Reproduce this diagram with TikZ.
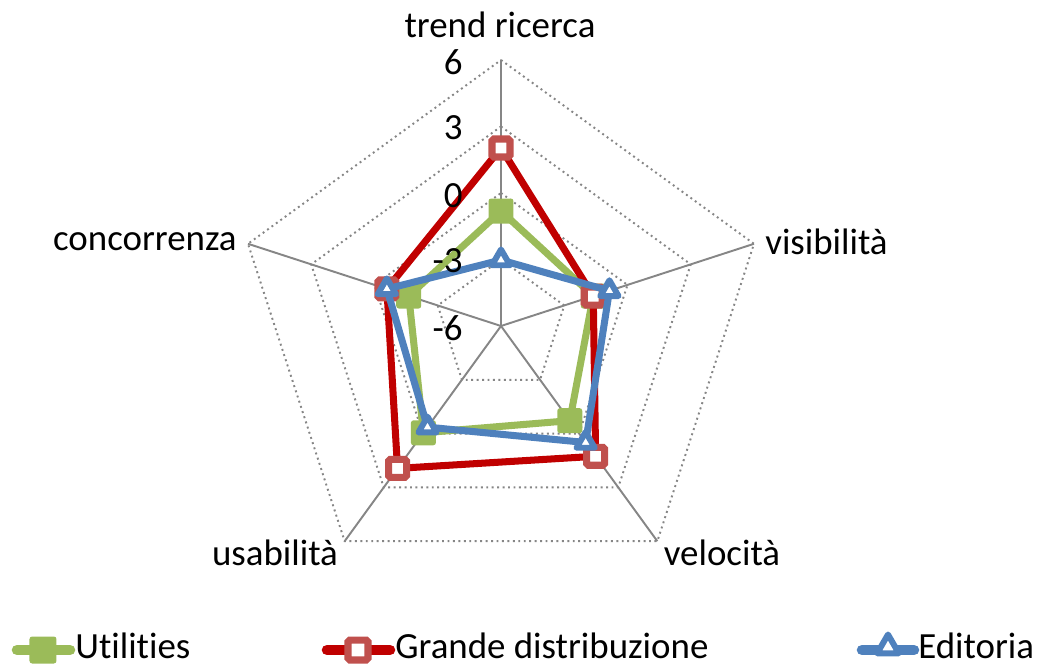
\documentclass[tikz,border=0pt]{standalone}
\usepackage{fontspec}
\setmainfont{Carlito}[Ligatures={CommonOff,RareOff}]
\usepackage{tikz}
\usetikzlibrary{shapes.geometric}

\definecolor{gridgray}{HTML}{868686}
\definecolor{utilgreen}{HTML}{9BBB59}
\definecolor{gdoline}{HTML}{C00000}
\definecolor{gdomark}{HTML}{C0504D}
\definecolor{edblue}{HTML}{4F81BD}

\begin{document}
\begin{tikzpicture}[x=0.02cm, y=0.02cm,
    every node/.style={font=\fontsize{21}{25}\selectfont, inner sep=0pt},
    spoke/.style={draw=gridgray, line width=1.1pt},
    ring/.style={draw=gridgray, line width=1.1pt, dotted},
    utilline/.style={draw=utilgreen, line width=4pt, line join=round},
    gdoline/.style={draw=gdoline, line width=4pt, line join=round},
    edline/.style={draw=edblue, line width=4pt, line join=round},
    keyline/.style={line width=6pt, line cap=round},
    utilmark/.style={rectangle, fill=utilgreen, minimum size=0.5cm, rounded corners=1.5pt},
    gdomark/.style={rectangle, draw=gdomark, fill=white, line width=4pt, minimum size=0.36cm, rounded corners=1pt},
    edmark/.style={regular polygon, regular polygon sides=3, draw=edblue, fill=white, line width=3.4pt, line join=round, minimum size=0.42cm}]

    % Fix the size of the page
    \useasboundingbox (-501,-338) rectangle (536,326);

    % Centre and ends of the five axes
    \coordinate (o) at (0,0);
    \coordinate (ot) at (90:266);
    \coordinate (ov) at (18:266);
    \coordinate (ovel) at (-54:266);
    \coordinate (ous) at (-126:266);
    \coordinate (oc) at (162:266);

    % Dotted rings at -3, 0, 3 and 6
    \foreach \r in {66.5,133,199.5,266}
        \draw[ring] (90:\r) -- (18:\r) -- (-54:\r) -- (-126:\r) -- (162:\r) -- cycle;

    % Spokes
    \draw[spoke] (o) -- (ot);
    \draw[spoke] (o) -- (ov);
    \draw[spoke] (o) -- (ovel);
    \draw[spoke] (o) -- (ous);
    \draw[spoke] (o) -- (oc);

    % Axis labels
    \node (ltrend) at (-1,301) {trend ricerca};
    \node[anchor=west] (lvis) at (264,84) {visibilità};
    \node (lvel) at (221,-227) {velocità};
    \node (lusa) at (-226,-227) {usabilità};
    \node[anchor=east] (lconc) at (-264,84) {concorrenza};

    % Utilities
    \coordinate (u1) at (90:115);
    \coordinate (u2) at (18:97);
    \coordinate (u3) at (-54:117);
    \coordinate (u4) at (-126:132);
    \coordinate (u5) at (162:97);
    \draw[utilline] (u1) -- (u2) -- (u3) -- (u4) -- (u5) -- cycle;
    \foreach \p in {u1,u2,u3,u4,u5}
        \node[utilmark] (m\p) at (\p) {};

    % Grande distribuzione
    \coordinate (g1) at (90:178);
    \coordinate (g2) at (18:97);
    \coordinate (g3) at (-54:161);
    \coordinate (g4) at (-126:176);
    \coordinate (g5) at (162:120);
    \draw[gdoline] (g1) -- (g2) -- (g3) -- (g4) -- (g5) -- cycle;
    \foreach \p in {g1,g2,g3,g4,g5}
        \node[gdomark] (m\p) at (\p) {};

    % Editoria
    \coordinate (e1) at (90:66);
    \coordinate (e2) at (18:114);
    \coordinate (e3) at (-54:144);
    \coordinate (e4) at (-126:125);
    \coordinate (e5) at (162:120);
    \draw[edline] (e1) -- (e2) -- (e3) -- (e4) -- (e5) -- cycle;
    \foreach \p in {e1,e2,e3,e4,e5}
        \node[edmark] (m\p) at (\p) {};

    % Scale labels (on top of the lines)
    \node[anchor=east] (s6) at (-38,264) {6};
    \node[anchor=east] (s3) at (-38,198) {3};
    \node[anchor=east] (s0) at (-38,130) {0};
    \node[anchor=east] (sm3) at (-38,65) {-3};
    \node[anchor=east] (sm6) at (-38,-2) {-6};

    % Legend
    \coordinate (lua) at (-484,-324);
    \coordinate (lub) at (-431,-324);
    \draw[utilline, keyline] (lua) -- (lub);
    \node[utilmark, minimum size=0.54cm] (lum) at (-458,-324) {};
    \node[anchor=west] (lut) at (-426,-320) {Utilities};

    \coordinate (lga) at (-174,-324);
    \coordinate (lgb) at (-111,-324);
    \draw[gdoline, keyline] (lga) -- (lgb);
    \node[gdomark, minimum size=0.4cm] (lgm) at (-143,-324) {};
    \node[anchor=west] (lgt) at (-106,-320) {Grande distribuzione};

    \coordinate (lea) at (361,-324);
    \coordinate (leb) at (413,-324);
    \draw[edline, keyline] (lea) -- (leb);
    \node[edmark, minimum size=0.5cm] (lem) at (387,-321) {};
    \node[anchor=west] (let) at (417,-320) {Editoria};
\end{tikzpicture}
\end{document}
